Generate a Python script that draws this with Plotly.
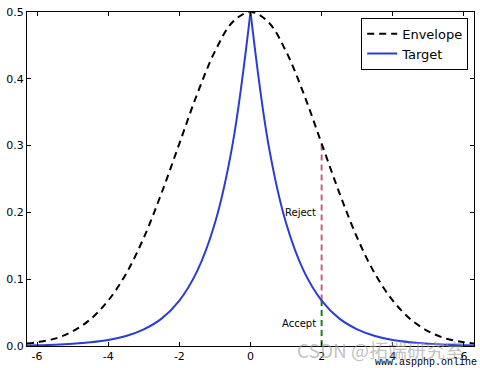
import plotly.graph_objects as go

# x positions (right half; mirrored for left half)
x_half = [0, 0.5, 1, 1.5, 2, 2.5, 3, 3.5, 4, 4.5, 5, 5.5, 6, 6.283]
envelope_half = [0.5, 0.485, 0.441, 0.377, 0.303, 0.229, 0.162, 0.108, 0.068, 0.040, 0.022, 0.011, 0.0056, 0.0036]
target_half = [0.5, 0.303, 0.184, 0.112, 0.068, 0.041, 0.025, 0.015, 0.009, 0.0056, 0.0034, 0.0020, 0.0012, 0.0009]

sample_x = 2.0
accept_top = 0.068
reject_top = 0.303
x_ticks = [-6, -4, -2, 0, 2, 4, 6]
y_ticks = [0.0, 0.1, 0.2, 0.3, 0.4, 0.5]

x_full = [-v for v in x_half[::-1]] + x_half[1:]
env_full = envelope_half[::-1] + envelope_half[1:]
x_left = [-v for v in x_half[::-1]]
tgt_left = target_half[::-1]

blue = "#2a3cd6"
fig = go.Figure()
fig.add_trace(go.Scatter(x=[sample_x, sample_x], y=[accept_top, reject_top], mode="lines",
                         line=dict(color="#c8607a", width=2, dash="6px,4px"), showlegend=False))
fig.add_trace(go.Scatter(x=[sample_x, sample_x], y=[0, accept_top], mode="lines",
                         line=dict(color="#1f7a1f", width=2, dash="6px,4px"), showlegend=False))
fig.add_trace(go.Scatter(x=x_full, y=env_full, mode="lines", name="Envelope",
                         line=dict(color="black", width=2, dash="7px,5px", shape="spline")))
fig.add_trace(go.Scatter(x=x_half, y=target_half, mode="lines", name="Target",
                         line=dict(color=blue, width=2, shape="spline")))
fig.add_trace(go.Scatter(x=x_left, y=tgt_left, mode="lines", showlegend=False,
                         line=dict(color=blue, width=2, shape="spline")))

fig.add_annotation(x=1.9, y=0.2, text="Reject", showarrow=False, xanchor="right",
                   font=dict(size=10, color="black", family="DejaVu Sans"))
fig.add_annotation(x=1.9, y=0.034, text="Accept", showarrow=False, xanchor="right",
                   font=dict(size=10, color="black", family="DejaVu Sans"))
fig.add_annotation(xref="paper", yref="paper", x=(295 - 27) / 447, y=(345.5 - 349) / 333,
                   xanchor="left", yanchor="middle",
                   text="CSDN @拓端研究室", showarrow=False,
                   font=dict(size=19, color="rgba(160,160,160,0.65)", family="Noto Sans CJK SC"))
fig.add_annotation(xref="paper", yref="paper", x=(479 - 27) / 447, y=(345.5 - 362) / 333,
                   xanchor="right", yanchor="middle",
                   text="www.aspphp.online", showarrow=False,
                   font=dict(size=10, color="black", family="Liberation Mono"))

axis_common = dict(showgrid=False, zeroline=False, showline=True, linecolor="black", linewidth=1,
                   mirror="ticks", ticks="inside", ticklen=4, tickcolor="black",
                   tickfont=dict(size=11, color="black", family="DejaVu Sans"))
fig.update_xaxes(range=[-6.283, 6.283], tickvals=x_ticks, ticktext=[str(t) for t in x_ticks], **axis_common)
fig.update_yaxes(range=[0, 0.5], tickvals=y_ticks, ticktext=[f"{t:.1f}" for t in y_ticks], **axis_common)

fig.update_layout(width=480, height=368, margin=dict(l=27, r=6, t=12, b=22),
                  plot_bgcolor="white", paper_bgcolor="white",
                  legend=dict(x=0.987, y=0.983, xanchor="right", yanchor="top",
                              bordercolor="black", borderwidth=1, bgcolor="white",
                              font=dict(size=13, color="black", family="DejaVu Sans"),
                              tracegroupgap=0, itemwidth=30))
fig.write_html("out.html")
